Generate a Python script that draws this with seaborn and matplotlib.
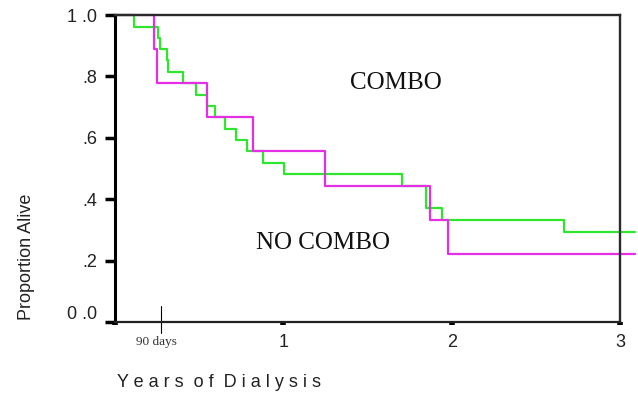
import numpy as np
import pandas as pd
import matplotlib
matplotlib.use("Agg")
import matplotlib.pyplot as plt
import matplotlib.transforms as mtransforms
import seaborn as sns

# Kaplan-Meier steps (years, proportion alive)
combo_years = [0, 0.115, 0.257, 0.268, 0.306, 0.316, 0.405, 0.480, 0.546, 0.594,
               0.653, 0.718, 0.782, 0.880, 1.005, 1.705, 1.850, 1.942, 2.667, 3.09]
combo_surv = [1.0, 0.962, 0.925, 0.889, 0.852, 0.815, 0.778, 0.741, 0.704, 0.667,
              0.630, 0.593, 0.556, 0.519, 0.481, 0.444, 0.370, 0.333, 0.294, 0.294]

nocombo_years = [0, 0.232, 0.247, 0.544, 0.817, 1.246, 1.873, 1.978, 3.09]
nocombo_surv = [1.0, 0.889, 0.778, 0.667, 0.556, 0.444, 0.333, 0.222, 0.222]

groups = ["COMBO", "NO COMBO"]
colors = {"COMBO": "#2ee62e", "NO COMBO": "#e62ee6"}

ytick_vals = [0, 0.2, 0.4, 0.6, 0.8, 1.0]
ytick_labels = ["0 .0", ".2", ".4", ".6", ".8", "1 .0"]
xtick_vals = [0, 1, 2, 3]
xtick_labels = ["", "1", "2", "3"]

df = pd.concat([
    pd.DataFrame({"Years": combo_years, "Proportion": combo_surv, "Group": "COMBO"}),
    pd.DataFrame({"Years": nocombo_years, "Proportion": nocombo_surv, "Group": "NO COMBO"}),
], ignore_index=True)

sns.set_style("white")
plt.rcParams["font.family"] = ["Liberation Sans", "DejaVu Sans"]

fig = plt.figure(figsize=(6.38, 3.96), dpi=100)
ax = fig.add_axes([0.1803, 0.1869, 0.7915, 0.7752])

sns.lineplot(data=df, x="Years", y="Proportion", hue="Group", hue_order=groups,
             palette=colors, estimator=None, sort=False, drawstyle="steps-post",
             linewidth=1.6, legend=False, ax=ax, clip_on=False, zorder=1)

ax.set_xlim(0, 3)
ax.set_ylim(0, 1)
ax.set_xlabel("")
ax.set_ylabel("")

ax.set_yticks(ytick_vals)
ax.set_yticklabels(ytick_labels, fontsize=13)
ax.set_xticks(xtick_vals)
ax.set_xticklabels(xtick_labels, fontsize=13)
ax.tick_params(axis="y", left=True, direction="out", length=7, width=2.5, pad=6, colors="black")
ax.tick_params(axis="x", bottom=True, direction="out", length=2.5, width=4, pad=6, colors="black")
for lab in ax.get_yticklabels() + ax.get_xticklabels():
    lab.set_color("#222222")

# the 0.0 label sits a bit above the axis in the original
zero_lab = ax.get_yticklabels()[0]
zero_lab.set_transform(zero_lab.get_transform()
                       + mtransforms.ScaledTranslation(0, 9 / 100, fig.dpi_scale_trans))

for side in ["top", "right"]:
    ax.spines[side].set_color("#2a2a2a")
    ax.spines[side].set_linewidth(1.7)
ax.spines["left"].set_color("black")
ax.spines["left"].set_linewidth(2.2)
ax.spines["bottom"].set_color("#222222")
ax.spines["bottom"].set_linewidth(1.6)

# 90 days marker
ax.plot([0.273, 0.273], [0.052, -0.036], color="black", lw=0.8, clip_on=False)
ax.text(0.245, -0.065, "90 days", ha="center", va="center", fontsize=9.5,
        family="Liberation Serif", color="#333333")

ax.text(1.67, 0.778, "COMBO", ha="center", va="center", fontsize=18,
        family="Liberation Serif", color="#111111")
ax.text(1.236, 0.257, "NO COMBO", ha="center", va="center", fontsize=18,
        family="Liberation Serif", color="#111111")

fig.text(0.041, 0.351, "Proportion Alive", rotation=90, ha="center", va="center",
         fontsize=13, color="#222222")
fig.text(0.3425, 0.033, "Y e a r s  o f  D i a l y s i s", ha="center", va="center",
         fontsize=13, color="#222222")

fig.savefig("out.png", dpi=100)
